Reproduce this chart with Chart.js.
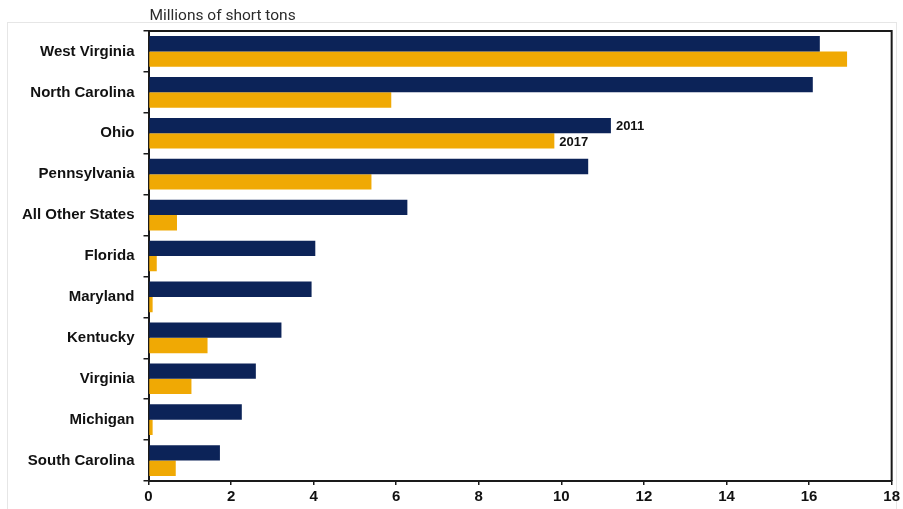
<!DOCTYPE html>
<html>
<head>
<meta charset="utf-8">
<script src="https://cdn.jsdelivr.net/npm/chart.js@4"></script>
<style>
  html, body { margin: 0; padding: 0; background: #ffffff; }
  #wrap { width: 903px; height: 509px; position: relative; }
</style>
</head>
<body>
<div id="wrap"><canvas id="chart" width="903" height="509"></canvas></div>
<script>
// Coal consumption by state, millions of short tons
const categories = ['West Virginia', 'North Carolina', 'Ohio', 'Pennsylvania', 'All Other States',
  'Florida', 'Maryland', 'Kentucky', 'Virginia', 'Michigan', 'South Carolina'];
const values2011 = [16.26, 16.09, 11.2, 10.65, 6.27, 4.04, 3.95, 3.22, 2.6, 2.26, 1.73];
const values2017 = [16.92, 5.88, 9.83, 5.4, 0.69, 0.2, 0.1, 1.43, 1.04, 0.1, 0.66];
const seriesLabels = ['2011', '2017'];
const unitLabel = 'Millions of short tons';
const labeledCategory = 'Ohio';
const xMin = 0, xMax = 18, xStep = 2;

const NAVY = '#0c2358';
const GOLD = '#f0a904';

// Frame, unit caption and series names next to one category's bars
const decorations = {
  id: 'decorations',
  beforeDraw(chart) {
    const ctx = chart.ctx;
    ctx.save();
    ctx.strokeStyle = '#e6e6e6';
    ctx.lineWidth = 1;
    ctx.strokeRect(7.5, 22.5, 889, 490);
    ctx.restore();
  },
  afterDraw(chart) {
    const ctx = chart.ctx;
    const a = chart.chartArea;
    ctx.save();
    ctx.strokeStyle = '#1a1a1a';
    ctx.lineWidth = 2;
    ctx.beginPath();
    ctx.moveTo(a.left, a.top);
    ctx.lineTo(a.right, a.top);
    ctx.lineTo(a.right, a.bottom);
    ctx.stroke();

    ctx.fillStyle = '#2b2b2b';
    ctx.font = '15.5px Roboto, "Liberation Sans", sans-serif';
    ctx.textBaseline = 'middle';
    ctx.textAlign = 'left';
    ctx.fillText(unitLabel, a.left + 1, 16);

    const idx = categories.indexOf(labeledCategory);
    ctx.fillStyle = '#111111';
    ctx.font = 'bold 13px "Liberation Sans", Arial, sans-serif';
    chart.data.datasets.forEach((ds, di) => {
      const bar = chart.getDatasetMeta(di).data[idx];
      ctx.fillText(ds.label, bar.x + 5, bar.y + 1);
    });
    ctx.restore();
  }
};

new Chart(document.getElementById('chart'), {
  type: 'bar',
  data: {
    labels: categories,
    datasets: [
      { label: seriesLabels[0], data: values2011, backgroundColor: NAVY,
        barPercentage: 1.0, categoryPercentage: 0.75 },
      { label: seriesLabels[1], data: values2017, backgroundColor: GOLD,
        barPercentage: 1.0, categoryPercentage: 0.75 }
    ]
  },
  options: {
    indexAxis: 'y',
    responsive: false,
    animation: false,
    layout: { padding: { left: 0, right: 9, top: 31, bottom: 0 } },
    plugins: {
      legend: { display: false },
      tooltip: { enabled: false }
    },
    scales: {
      x: {
        min: xMin, max: xMax,
        ticks: {
          stepSize: xStep,
          color: '#111111',
          padding: 3,
          font: { family: '"Liberation Sans Narrow", "Liberation Sans", Arial, sans-serif', size: 15, weight: 'bold' }
        },
        grid: { drawOnChartArea: false, tickLength: 4, color: '#1a1a1a', lineWidth: 1.5 },
        border: { display: true, color: '#1a1a1a', width: 2 },
        afterFit(scale) { scale.height = 28; }
      },
      y: {
        ticks: {
          color: '#111111',
          padding: 9,
          font: { family: '"Liberation Sans", Arial, sans-serif', size: 15, weight: 'bold' }
        },
        grid: { drawOnChartArea: false, tickLength: 5, color: '#1a1a1a', lineWidth: 1.5, offset: true },
        border: { display: true, color: '#1a1a1a', width: 2 },
        afterFit(scale) { scale.width = 148.5; }
      }
    }
  },
  plugins: [decorations]
});
</script>
</body>
</html>
